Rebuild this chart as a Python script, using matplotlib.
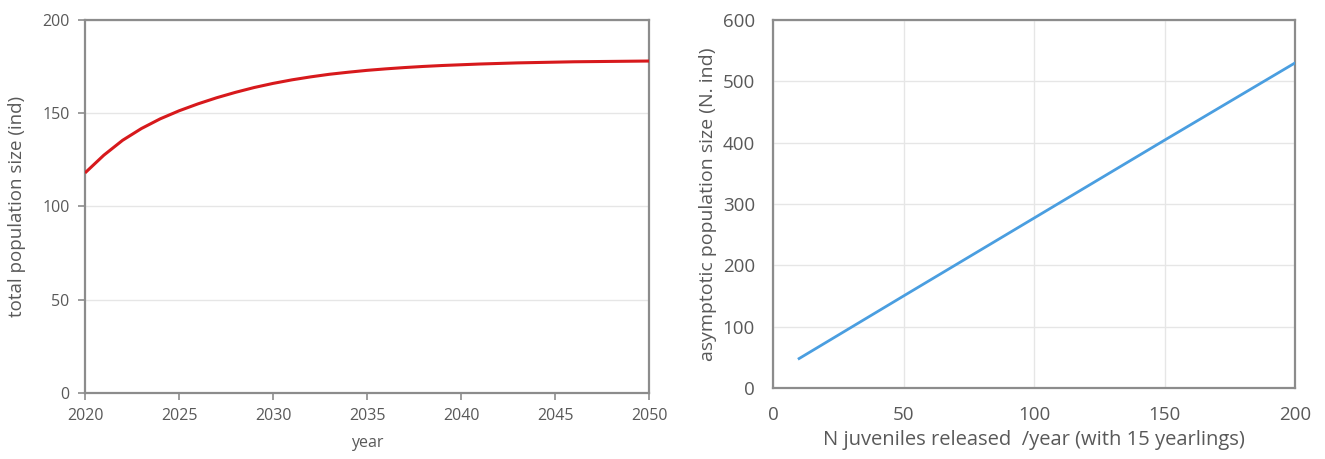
import matplotlib
matplotlib.use("Agg")
import matplotlib.pyplot as plt

# left panel: projected total population
years = list(range(2020, 2051))
pop_total = [118, 127.5, 135.5, 141.8, 147, 151.3, 155, 158.3, 161.2, 163.8, 166,
             167.9, 169.5, 170.9, 172, 173, 173.8, 174.5, 175.1, 175.6, 176,
             176.4, 176.7, 177, 177.2, 177.4, 177.6, 177.7, 177.8, 177.9, 178]

# right panel: asymptotic size vs juveniles released
released = [10, 50, 100, 150, 200]
asym_size = [48, 150, 277, 404, 530]

plt.rcParams["font.family"] = ["Open Sans", "DejaVu Sans"]
GRAY = "#595959"
SPINE = "#8c8c8c"
GRID = "#e6e6e6"

fig = plt.figure(figsize=(13.25, 4.59), dpi=100)
ax1 = fig.add_axes([85 / 1325, 1 - 393 / 459, 564 / 1325, 373 / 459])
ax2 = fig.add_axes([773 / 1325, 1 - 388 / 459, 522 / 1325, 368 / 459])

# ── left ──
ax1.plot(years, pop_total, color="#d7191c", lw=2.2, zorder=3,
         solid_joinstyle="round", solid_capstyle="butt")
ax1.set_xlim(2020, 2050)
ax1.set_ylim(0, 200)
ax1.set_xticks(range(2020, 2051, 5))
ax1.set_yticks(range(0, 201, 50))
ax1.yaxis.grid(True, color=GRID, lw=1)
ax1.set_xlabel("year", color=GRAY, fontsize=11.5, labelpad=8)
ax1.set_ylabel("total population size (ind)", color=GRAY, fontsize=13.5, labelpad=12)
ax1.tick_params(colors=GRAY, labelsize=11.5, length=5, width=1.2, color=SPINE, pad=6)

# ── right ──
ax2.plot(released, asym_size, color="#4a9ee0", lw=2, zorder=3)
ax2.set_xlim(0, 200)
ax2.set_ylim(0, 600)
ax2.set_xticks(range(0, 201, 50))
ax2.set_yticks(range(0, 601, 100))
ax2.grid(True, color=GRID, lw=1)
ax2.set_xlabel("N juveniles released  /year (with 15 yearlings)", color=GRAY,
               fontsize=14.5, labelpad=4)
ax2.set_ylabel("asymptotic population size (N. ind)", color=GRAY,
               fontsize=14, labelpad=4)
ax2.tick_params(colors=GRAY, labelsize=13.5, length=0, pad=13)

for ax in (ax1, ax2):
    ax.set_axisbelow(True)
    for s in ax.spines.values():
        s.set_color(SPINE)
        s.set_linewidth(1.6)

fig.savefig("out.png", dpi=100)
